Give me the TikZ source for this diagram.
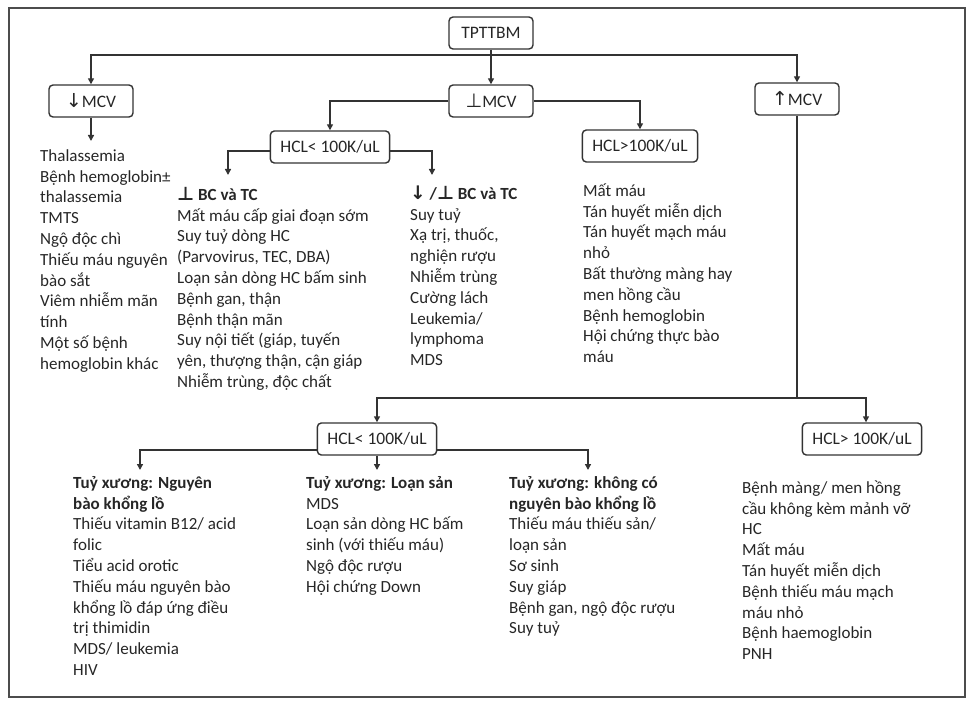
\documentclass[tikz,border=0pt]{standalone}
\usepackage{fontspec}
\setmainfont{Carlito}
\newfontfamily\symfont[Scale=1.1]{DejaVu Sans}
\newcommand{\sy}[1]{{\symfont #1}}
\usetikzlibrary{arrows.meta}

\begin{document}
\begin{tikzpicture}[x=1pt,y=-1pt,
  box/.style={draw=black!80,line width=1.4pt,rounded corners=4pt,minimum height=32pt,
    minimum width=84pt,inner xsep=10pt,text=black!85,font=\fontsize{17.5}{20.8}\selectfont},
  list/.style={anchor=north west,align=left,inner sep=0pt,text=black!85,
    font=\fontsize{17}{20.8}\selectfont},
  link/.style={draw=black!80,line width=1.4pt},
  arr/.style={link,-{Triangle[length=6pt,width=6pt]}}]
\useasboundingbox (0,0) rectangle (975,706);
\draw[black!70,line width=1.2pt] (9,8) rectangle (965,697);
% boxes
\node[box] (root) at (491,33) {TPTTBM};
\node[box] (mcvlow) at (91,101) {\sy{↓}MCV};
\node[box] (mcvnorm) at (491,101) {\sy{⊥}MCV};
\node[box] (mcvhigh) at (797,99) {\sy{↑}MCV};
\node[box] (hcllow) at (330,147) {HCL< 100K/uL};
\node[box] (hclhigh) at (640,146) {HCL>100K/uL};
\node[box] (hcllow2) at (377,439) {HCL< 100K/uL};
\node[box] (hclhigh2) at (862,439) {HCL> 100K/uL};
% lists
\node[list] (lstlow) at (40,145) {\rule{0pt}{16pt}Thalassemia\\Bệnh hemoglobin±\\thalassemia\\TMTS\\Ngộ độc chì\\
  Thiếu máu nguyên\\bào sắt\\Viêm nhiễm mãn\\tính\\Một số bệnh\\hemoglobin khác};
\node[list] (lstA) at (177,184) {\rule{0pt}{16pt}\textbf{\sy{⊥} BC và TC}\\Mất máu cấp giai đoạn sớm\\Suy tuỷ dòng HC\\
  (Parvovirus, TEC, DBA)\\Loạn sản dòng HC bấm sinh\\Bệnh gan, thận\\Bệnh thận mãn\\
  Suy nội tiết (giáp, tuyến\\yên, thượng thận, cận giáp\\Nhiễm trùng, độc chất};
\node[list] (lstB) at (410,183) {\rule{0pt}{16pt}\textbf{\sy{↓} /\sy{⊥} BC và TC}\\Suy tuỷ\\Xạ trị, thuốc,\\nghiện rượu\\
  Nhiễm trùng\\Cường lách\\Leukemia/\\lymphoma\\MDS};
\node[list] (lstC) at (583,180) {\rule{0pt}{16pt}Mất máu\\Tán huyết miễn dịch\\Tán huyết mạch máu\\nhỏ\\
  Bất thường màng hay\\men hồng cầu\\Bệnh hemoglobin\\Hội chứng thực bào\\máu};
\node[list] (lstD) at (73,472) {\rule{0pt}{16pt}\textbf{Tuỷ xương: Nguyên}\\\textbf{bào khổng lồ}\\
  Thiếu vitamin B12/ acid\\folic\\Tiểu acid orotic\\Thiếu máu nguyên bào\\khổng lồ đáp ứng điều\\
  trị thimidin\\MDS/ leukemia\\HIV};
\node[list] (lstE) at (306,472) {\rule{0pt}{16pt}\textbf{Tuỷ xương: Loạn sản}\\MDS\\Loạn sản dòng HC bấm\\
  sinh (với thiếu máu)\\Ngộ độc rượu\\Hội chứng Down};
\node[list] (lstF) at (509,472) {\rule{0pt}{16pt}\textbf{Tuỷ xương: không có}\\\textbf{nguyên bào khổng lồ}\\
  Thiếu máu thiếu sản/\\loạn sản\\Sơ sinh\\Suy giáp\\Bệnh gan, ngộ độc rượu\\Suy tuỷ};
\node[list] (lstG) at (742,477) {\rule{0pt}{16pt}Bệnh màng/ men hồng\\cầu không kèm mảnh vỡ\\HC\\Mất máu\\
  Tán huyết miễn dịch\\Bệnh thiếu máu mạch\\máu nhỏ\\Bệnh haemoglobin\\PNH};
% connectors
\coordinate (split) at (491,55);
\coordinate (split2) at (797,398);
\coordinate (endlow) at (91,141);
\coordinate (endA) at (228,175);
\coordinate (endB) at (432,175);
\coordinate (endD) at (140,470);
\coordinate (endE) at (377,470);
\coordinate (endF) at (588,470);
\draw[arr] (root) -- (mcvnorm);
\draw[arr] (split) -| (mcvlow);
\draw[arr] (split) -| (mcvhigh);
\draw[arr] (mcvlow) -- (endlow);
\draw[arr] (mcvnorm) -| (hcllow);
\draw[arr] (mcvnorm) -| (hclhigh);
\draw[arr] ([yshift=-4pt]hcllow.west) -| (endA);
\draw[arr] ([yshift=-4pt]hcllow.east) -| (endB);
\draw[link] (mcvhigh) -- (split2);
\draw[arr] (split2) -| (hcllow2);
\draw[arr] (split2) -| ([xshift=4pt]hclhigh2.north);
\draw[arr] ([yshift=-11pt]hcllow2.west) -| (endD);
\draw[arr] (hcllow2) -- (endE);
\draw[arr] ([yshift=-11pt]hcllow2.east) -| (endF);
\end{tikzpicture}
\end{document}
